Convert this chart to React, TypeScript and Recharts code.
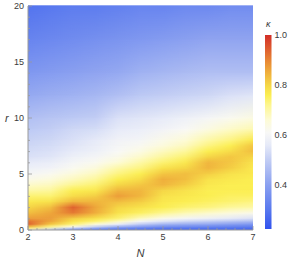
import React from 'react';
import { ComposedChart, XAxis, YAxis, ReferenceArea } from 'recharts';

// Grid of the heat map: N (columns) and r (rows)
const nValues = [2, 2.5, 3, 3.5, 4, 4.5, 5, 5.5, 6, 6.5, 7];
const rValues = [0, 0.25, 0.5, 0.75, 1, 1.5, 2, 2.5, 3, 3.5, 4, 4.5, 5, 5.5, 6, 6.5, 7, 7.5, 8, 9, 10, 12, 14, 17, 20];

// kappa along r for each N column
const kappaN2 = [0.68, 0.82, 0.94, 0.92, 0.87, 0.83, 0.8, 0.77, 0.74, 0.7, 0.67, 0.63, 0.6, 0.58, 0.56, 0.54, 0.53, 0.52, 0.51, 0.49, 0.47, 0.42, 0.38, 0.33, 0.29];
const kappaN2_5 = [0.5, 0.72, 0.82, 0.86, 0.87, 0.86, 0.83, 0.78, 0.74, 0.71, 0.68, 0.65, 0.62, 0.59, 0.57, 0.55, 0.54, 0.53, 0.52, 0.5, 0.48, 0.43, 0.39, 0.34, 0.3];
const kappaN3 = [0.35, 0.62, 0.74, 0.78, 0.81, 0.91, 0.94, 0.84, 0.79, 0.76, 0.72, 0.68, 0.65, 0.62, 0.6, 0.58, 0.56, 0.55, 0.54, 0.52, 0.49, 0.44, 0.4, 0.35, 0.31];
const kappaN3_5 = [0.3, 0.5, 0.66, 0.74, 0.78, 0.85, 0.86, 0.84, 0.81, 0.77, 0.74, 0.71, 0.68, 0.65, 0.62, 0.6, 0.58, 0.57, 0.56, 0.53, 0.5, 0.45, 0.41, 0.36, 0.31];
const kappaN4 = [0.28, 0.42, 0.58, 0.68, 0.74, 0.78, 0.8, 0.83, 0.87, 0.84, 0.8, 0.76, 0.73, 0.7, 0.66, 0.63, 0.61, 0.6, 0.59, 0.56, 0.54, 0.47, 0.42, 0.37, 0.32];
const kappaN4_5 = [0.27, 0.38, 0.5, 0.6, 0.68, 0.75, 0.78, 0.81, 0.84, 0.84, 0.82, 0.79, 0.76, 0.73, 0.7, 0.67, 0.64, 0.62, 0.6, 0.57, 0.55, 0.49, 0.44, 0.38, 0.33];
const kappaN5 = [0.26, 0.35, 0.45, 0.55, 0.63, 0.72, 0.76, 0.77, 0.78, 0.8, 0.84, 0.85, 0.82, 0.78, 0.74, 0.71, 0.68, 0.65, 0.63, 0.59, 0.56, 0.5, 0.45, 0.39, 0.33];
const kappaN5_5 = [0.26, 0.34, 0.43, 0.52, 0.6, 0.69, 0.74, 0.76, 0.77, 0.78, 0.81, 0.83, 0.83, 0.8, 0.77, 0.74, 0.71, 0.68, 0.66, 0.61, 0.58, 0.51, 0.46, 0.4, 0.34];
const kappaN6 = [0.26, 0.33, 0.42, 0.5, 0.58, 0.67, 0.73, 0.75, 0.76, 0.76, 0.77, 0.78, 0.81, 0.84, 0.84, 0.8, 0.76, 0.73, 0.7, 0.64, 0.6, 0.52, 0.47, 0.41, 0.34];
const kappaN6_5 = [0.26, 0.32, 0.4, 0.48, 0.56, 0.65, 0.71, 0.74, 0.75, 0.76, 0.76, 0.77, 0.78, 0.81, 0.82, 0.82, 0.79, 0.76, 0.73, 0.67, 0.62, 0.54, 0.47, 0.41, 0.35];
const kappaN7 = [0.25, 0.31, 0.38, 0.46, 0.54, 0.63, 0.7, 0.73, 0.75, 0.76, 0.76, 0.76, 0.77, 0.77, 0.78, 0.8, 0.83, 0.82, 0.77, 0.69, 0.64, 0.55, 0.47, 0.41, 0.35];

const kappaColumns = [kappaN2, kappaN2_5, kappaN3, kappaN3_5, kappaN4, kappaN4_5, kappaN5, kappaN5_5, kappaN6, kappaN6_5, kappaN7];

// axis ticks
const xTicks = [2, 2.2, 2.4, 2.6, 2.8, 3, 3.2, 3.4, 3.6, 3.8, 4, 4.2, 4.4, 4.6, 4.8, 5, 5.2, 5.4, 5.6, 5.8, 6, 6.2, 6.4, 6.6, 6.8, 7];
const yTicks = [0, 1, 2, 3, 4, 5, 6, 7, 8, 9, 10, 11, 12, 13, 14, 15, 16, 17, 18, 19, 20];
const colorbarTicks = [0.4, 0.6, 0.8, 1.0];
const kappaMin = 0.224;
const kappaMax = 1.0;

// colour map (style)
const cmapStops: [number, string][] = [
  [0.22, '#3152ee'],
  [0.3, '#5878ee'],
  [0.4, '#8aa0f0'],
  [0.5, '#c2cdf4'],
  [0.56, '#e6eaf8'],
  [0.61, '#f8f8f6'],
  [0.66, '#fdfbd6'],
  [0.72, '#fdf690'],
  [0.76, '#fbee52'],
  [0.8, '#f5d646'],
  [0.85, '#efae3c'],
  [0.9, '#e78434'],
  [0.95, '#dd582e'],
  [1.0, '#d22e28'],
];

const hexToRgb = (h: string) => [parseInt(h.slice(1, 3), 16), parseInt(h.slice(3, 5), 16), parseInt(h.slice(5, 7), 16)];
const kappaColor = (v: number) => {
  if (v <= cmapStops[0][0]) return cmapStops[0][1];
  for (let i = 1; i < cmapStops.length; i++) {
    const [v1, c1] = cmapStops[i];
    if (v <= v1) {
      const [v0, c0] = cmapStops[i - 1];
      const t = (v - v0) / (v1 - v0);
      const a = hexToRgb(c0);
      const b = hexToRgb(c1);
      const m = a.map((x, k) => Math.round(x + (b[k] - x) * t));
      return `rgb(${m[0]},${m[1]},${m[2]})`;
    }
  }
  return cmapStops[cmapStops.length - 1][1];
};

const rows = rValues.map((_, i) => nValues.map((__, j) => kappaColumns[j][i]));
// grid points (gives the chart its numeric data extent)
const gridPoints = rValues.flatMap((r, i) => nValues.map((n, j) => ({ n, r, kappa: kappaColumns[j][i] })));
const colorbarPoints = colorbarTicks.map((k) => ({ x: 0.5, k }));

const FONT = '"Liberation Sans", Arial, sans-serif';
const FRAME = '#9a9a9a';
const TXT = '#3a3a3a';

const BottomTick = (p: any) => {
  const { x, y, payload } = p;
  const major = Number.isInteger(payload.value);
  return (
    <g>
      <line x1={x} x2={x} y1={y} y2={y - (major ? 4 : 2)} stroke={FRAME} strokeWidth={0.8} />
      {major && (
        <text x={x} y={y + 10} textAnchor="middle" fontSize={9} fill={TXT} fontFamily={FONT}>
          {payload.value}
        </text>
      )}
    </g>
  );
};
const TopTick = (p: any) => {
  const { x, y, payload } = p;
  const major = Number.isInteger(payload.value);
  return <line x1={x} x2={x} y1={y} y2={y + (major ? 4 : 2)} stroke={FRAME} strokeWidth={0.8} />;
};
const LeftTick = (p: any) => {
  const { x, y, payload } = p;
  const major = payload.value % 5 === 0;
  return (
    <g>
      <line x1={x} x2={x + (major ? 4 : 2)} y1={y} y2={y} stroke={FRAME} strokeWidth={0.8} />
      {major && (
        <text x={x - 4} y={y} dy="0.35em" textAnchor="end" fontSize={9} fill={TXT} fontFamily={FONT}>
          {payload.value}
        </text>
      )}
    </g>
  );
};
const RightTick = (p: any) => {
  const { x, y, payload } = p;
  const major = payload.value % 5 === 0;
  return <line x1={x} x2={x - (major ? 4 : 2)} y1={y} y2={y} stroke={FRAME} strokeWidth={0.8} />;
};

const makeStrip = (i: number) => (p: any) => {
  const { x, y, width, height } = p;
  const ext = 0.6;
  return (
    <g>
      <rect x={x} y={y - ext} width={width} height={height + ext} fill={`url(#kr${i})`} />
      <rect x={x} y={y - ext} width={width} height={height + ext} fill={`url(#kr${i + 1})`} mask="url(#vmask)" />
    </g>
  );
};

const ColorbarShape = (p: any) => {
  const { x, y, width, height } = p;
  return <rect x={x} y={y} width={width} height={height} fill="url(#cbar)" />;
};

export default function App() {
  return (
    <div style={{ position: 'fixed', left: 0, top: 0, width: 290, height: 260, background: '#fff' }}>
      <svg width={0} height={0} style={{ position: 'absolute' }}>
        <defs>
          {rows.map((row, i) => (
            <linearGradient key={i} id={`kr${i}`} x1="0" y1="0" x2="1" y2="0">
              {row.map((v, j) => (
                <stop key={j} offset={(nValues[j] - 2) / 5} stopColor={kappaColor(v)} />
              ))}
            </linearGradient>
          ))}
          <linearGradient id="vfade" x1="0" y1="0" x2="0" y2="1">
            <stop offset="0" stopColor="#fff" />
            <stop offset="1" stopColor="#000" />
          </linearGradient>
          <mask id="vmask" maskUnits="objectBoundingBox" maskContentUnits="objectBoundingBox" x="0" y="0" width="1" height="1">
            <rect x="0" y="0" width="1" height="1" fill="url(#vfade)" />
          </mask>
          <linearGradient id="cbar" x1="0" y1="1" x2="0" y2="0">
            {cmapStops.map(([v, c], k) => (
              <stop key={k} offset={Math.max(0, (v - kappaMin) / (kappaMax - kappaMin))} stopColor={c} />
            ))}
          </linearGradient>
        </defs>
      </svg>

      <div style={{ position: 'absolute', left: 0, top: 0 }}>
        <ComposedChart width={290} height={260} data={gridPoints} margin={{ top: 6, right: 37, bottom: 0, left: 0 }}>
          {rValues.slice(0, -1).map((r, i) => (
            <ReferenceArea
              key={i}
              x1={2}
              x2={7}
              y1={r}
              y2={rValues[i + 1]}
              ifOverflow="visible"
              shape={makeStrip(i)}
            />
          ))}
          <XAxis
            dataKey="n"
            type="number"
            domain={[2, 7]}
            allowDataOverflow
            ticks={xTicks}
            interval={0}
            tickLine={false}
            tickSize={0}
            tickMargin={0}
            height={30}
            axisLine={{ stroke: FRAME }}
            tick={(p: any) => <BottomTick {...p} />}
            label={{ value: 'N', position: 'insideBottom', offset: 3, fontStyle: 'italic', fontSize: 11, fill: TXT, fontFamily: FONT }}
          />
          <XAxis
            xAxisId="top"
            dataKey="n"
            orientation="top"
            type="number"
            domain={[2, 7]}
            allowDataOverflow
            ticks={xTicks}
            interval={0}
            tickLine={false}
            tickSize={0}
            tickMargin={0}
            height={0}
            axisLine={{ stroke: FRAME }}
            tick={(p: any) => <TopTick {...p} />}
          />
          <YAxis
            dataKey="r"
            type="number"
            domain={[0, 20]}
            allowDataOverflow
            ticks={yTicks}
            interval={0}
            tickLine={false}
            tickSize={0}
            tickMargin={0}
            width={28}
            axisLine={{ stroke: FRAME }}
            tick={(p: any) => <LeftTick {...p} />}
            label={{ value: 'r', position: 'insideLeft', offset: 5, fontStyle: 'italic', fontSize: 11, fill: TXT, fontFamily: FONT }}
          />
          <YAxis
            yAxisId="right"
            dataKey="r"
            orientation="right"
            type="number"
            domain={[0, 20]}
            allowDataOverflow
            ticks={yTicks}
            interval={0}
            tickLine={false}
            tickSize={0}
            tickMargin={0}
            width={0}
            axisLine={{ stroke: FRAME }}
            tick={(p: any) => <RightTick {...p} />}
          />
        </ComposedChart>
      </div>

      <div style={{ position: 'absolute', left: 250, top: 0 }}>
        <ComposedChart width={40} height={260} data={colorbarPoints} margin={{ top: 35, right: 0, bottom: 31, left: 15 }}>
          <XAxis dataKey="x" type="number" domain={[0, 1]} allowDataOverflow hide />
          <YAxis
            dataKey="k"
            type="number"
            orientation="right"
            domain={[kappaMin, kappaMax]}
            allowDataOverflow
            ticks={colorbarTicks}
            interval={0}
            width={18.5}
            axisLine={false}
            tickLine={false}
            tickSize={0}
            tickMargin={3}
            tickFormatter={(v: number) => v.toFixed(1)}
            tick={{ fontSize: 9, fill: TXT, fontFamily: FONT }}
          />
          <ReferenceArea
            x1={0}
            x2={1}
            y1={kappaMin}
            y2={kappaMax}
            ifOverflow="visible"
            shape={(p: any) => <ColorbarShape {...p} />}
            label={{ value: 'κ', position: 'top', offset: 8, fontStyle: 'italic', fontSize: 9, fill: TXT, fontFamily: FONT }}
          />
        </ComposedChart>
      </div>
    </div>
  );
}
